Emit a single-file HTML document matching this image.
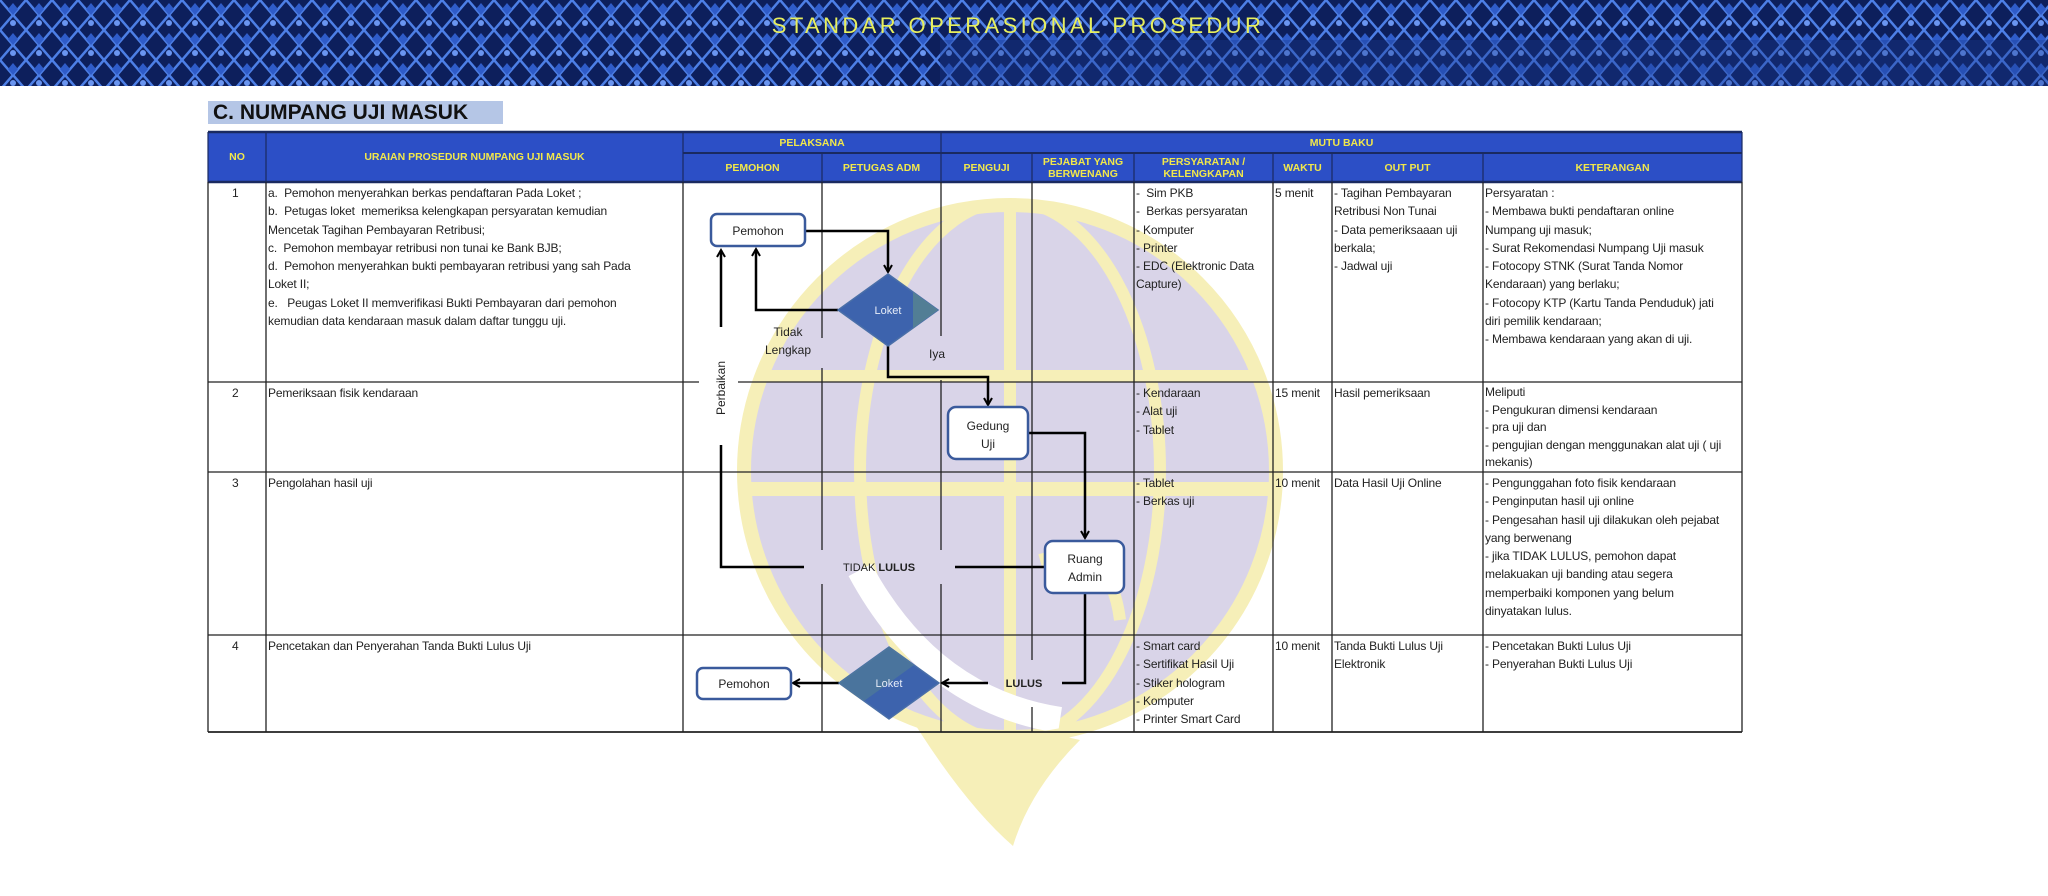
<!DOCTYPE html>
<html><head><meta charset="utf-8"><style>
*{margin:0;padding:0;box-sizing:border-box}
body{width:2048px;height:896px;background:#fff;position:relative;overflow:hidden;font-family:"Liberation Sans",sans-serif;color:#222}
.t{position:absolute;font-size:12px;line-height:18.3px;white-space:nowrap;color:#222;letter-spacing:-0.15px}
.h{position:absolute;color:#f2e84a;font-weight:bold;font-size:10.5px;text-align:center;line-height:12px;display:flex;align-items:center;justify-content:center}
svg{position:absolute;left:0;top:0}
</style></head><body>
<svg width="2048" height="896">
<defs>
<pattern id="bt" width="26" height="30" patternUnits="userSpaceOnUse">
<rect width="26" height="30" fill="#0d1f5c"/>
<path d="M0 0L13 15L0 30M26 0L13 15L26 30" stroke="#4d7fe6" stroke-width="2.5" fill="none"/>
<path d="M13 3L18 9L13 15L8 9Z" fill="#2f5cc9"/>
<circle cx="13" cy="23" r="3" fill="#6a95f0"/>
</pattern>
<clipPath id="cc"><circle cx="1010" cy="471" r="262"/></clipPath>
<marker id="ar" markerWidth="10" markerHeight="10" refX="8" refY="5" orient="auto" markerUnits="userSpaceOnUse"><path d="M1 1L8 5L1 9" fill="none" stroke="#000" stroke-width="2"/></marker>
</defs>
<rect x="0" y="0" width="2048" height="86" fill="url(#bt)"/>
<rect x="940" y="40" width="1108" height="46" fill="#1a3a90" opacity="0.35"/>
<!-- watermark -->
<path d="M900 700 Q960 800 1013 846 Q1030 790 1080 740 Z" fill="#f6efb8"/>
<circle cx="1010" cy="471" r="266" fill="#d9d4e8" stroke="#f6efb8" stroke-width="14"/>
<g clip-path="url(#cc)" stroke="#f6efb8" fill="none">
<rect x="740" y="370" width="540" height="12" fill="#f6efb8" stroke="none"/>
<rect x="740" y="482" width="540" height="14" fill="#f6efb8" stroke="none"/>
<ellipse cx="1010" cy="471" rx="150" ry="270" stroke-width="12"/>
<line x1="1010" y1="200" x2="1010" y2="740" stroke-width="12"/>
<path d="M860 570 Q930 700 1060 720" stroke-width="26" stroke="#fff"/>
<path d="M1040 560 Q1110 540 1120 620" stroke-width="12"/>
</g>
<!-- header -->
<rect x="208" y="132" width="1534" height="50" fill="#2c4fc6"/>
<g stroke="#1a2a60" stroke-width="1.5">
<line x1="208" y1="132" x2="1742" y2="132" stroke-width="2.5"/>
<line x1="683" y1="153" x2="1742" y2="153" stroke-width="2"/>
<line x1="208" y1="182" x2="1742" y2="182" stroke-width="2.5"/>
</g>
<g stroke="#1a2a60" stroke-width="1.2">
<line x1="208" y1="132" x2="208" y2="182"/><line x1="266" y1="132" x2="266" y2="182"/>
<line x1="683" y1="132" x2="683" y2="182"/><line x1="941" y1="132" x2="941" y2="182"/>
<line x1="822" y1="153" x2="822" y2="182"/><line x1="1032" y1="153" x2="1032" y2="182"/>
<line x1="1134" y1="153" x2="1134" y2="182"/><line x1="1273" y1="153" x2="1273" y2="182"/>
<line x1="1332" y1="153" x2="1332" y2="182"/><line x1="1483" y1="153" x2="1483" y2="182"/>
<line x1="1742" y1="132" x2="1742" y2="182"/>
</g>
<!-- body grid -->
<g stroke="#222" stroke-width="1.3">
<line x1="208" y1="182" x2="208" y2="732"/><line x1="266" y1="182" x2="266" y2="732"/>
<line x1="683" y1="182" x2="683" y2="732"/>
<line x1="1134" y1="182" x2="1134" y2="732"/><line x1="1273" y1="182" x2="1273" y2="732"/>
<line x1="1332" y1="182" x2="1332" y2="732"/><line x1="1483" y1="182" x2="1483" y2="732"/>
<line x1="1742" y1="182" x2="1742" y2="732"/>
<line x1="208" y1="382" x2="699" y2="382"/><line x1="738" y1="382" x2="1742" y2="382"/>
<line x1="208" y1="472" x2="1742" y2="472"/>
<line x1="208" y1="635" x2="1742" y2="635"/>
<line x1="208" y1="732" x2="1742" y2="732" stroke-width="1.8"/>
<line x1="822" y1="182" x2="822" y2="338"/><line x1="822" y1="368" x2="822" y2="550"/><line x1="822" y1="584" x2="822" y2="732"/>
<line x1="941" y1="182" x2="941" y2="336"/><line x1="941" y1="380" x2="941" y2="550"/><line x1="941" y1="584" x2="941" y2="732"/>
<line x1="1032" y1="182" x2="1032" y2="660"/><line x1="1032" y1="707" x2="1032" y2="732"/>
</g>
<!-- flow -->
<g stroke="#000" stroke-width="2.5" fill="none">
<polyline points="805,231 888,231 888,272" marker-end="url(#ar)"/>
<polyline points="838,310 756,310 756,249" marker-end="url(#ar)"/>
<line x1="721" y1="327" x2="721" y2="250" marker-end="url(#ar)"/>
<polyline points="888,346 888,377 988,377 988,405" marker-end="url(#ar)"/>
<polyline points="1028,433 1085,433 1085,538" marker-end="url(#ar)"/>
<polyline points="721,445 721,567 804,567"/>
<line x1="955" y1="567" x2="1045" y2="567"/>
<polyline points="1085,593 1085,683 1062,683"/>
<line x1="988" y1="683" x2="942" y2="683" marker-end="url(#ar)"/>
<line x1="839" y1="683" x2="793" y2="683" marker-end="url(#ar)"/>
</g>
<g stroke="#3a5a9c" stroke-width="2.5" fill="#fff">
<rect x="711" y="214" width="94" height="32" rx="6"/>
<rect x="948" y="407" width="80" height="52" rx="8"/>
<rect x="1045" y="541" width="79" height="52" rx="8"/>
<rect x="697" y="668" width="94" height="31" rx="6"/>
</g>
<path d="M888 274L938 310L888 346L838 310Z" fill="#3d63ad" stroke="#4a6fa8" stroke-width="1.5"/>
<path d="M889 647L939 683L889 719L839 683Z" fill="#3d63ad" stroke="#4a6fa8" stroke-width="1.5"/>
<path d="M913 292L938 310L913 328Z" fill="#5b8a8a" opacity="0.7"/>
<path d="M864 665L889 647L914 665L864 701L839 683Z" fill="#5b8a8a" opacity="0.45"/>
<g font-family="Liberation Sans,sans-serif" font-size="12" fill="#222" text-anchor="middle">
<text x="758" y="235">Pemohon</text>
<text x="744" y="688">Pemohon</text>
<text x="888" y="314" fill="#e6ecf8" font-size="11">Loket</text>
<text x="889" y="687" fill="#e6ecf8" font-size="11">Loket</text>
<text x="988" y="430">Gedung</text><text x="988" y="448">Uji</text>
<text x="1085" y="563">Ruang</text><text x="1085" y="581">Admin</text>
<text x="788" y="336">Tidak</text><text x="788" y="354">Lengkap</text>
<text x="937" y="358">Iya</text>
<text x="879" y="571" font-size="11">TIDAK <tspan font-weight="bold">LULUS</tspan></text>
<text x="1024" y="687" font-size="11" font-weight="bold">LULUS</text>
<text transform="translate(725,388) rotate(-90)" font-size="12">Perbaikan</text>
<text x="1018" y="33" fill="#e8ef5e" font-size="22" letter-spacing="3.4" text-anchor="middle">STANDAR OPERASIONAL PROSEDUR</text>
</g>
</svg>
<div style="position:absolute;left:208px;top:101px;width:295px;height:23px;background:#b5c6e6"></div>
<div style="position:absolute;left:213px;top:100px;font-size:21px;font-weight:bold;color:#111;line-height:25px">C. NUMPANG UJI MASUK</div>
<div class="h" style="left:208px;top:132px;width:58px;height:50px">NO</div>
<div class="h" style="left:266px;top:132px;width:417px;height:50px">URAIAN PROSEDUR NUMPANG UJI MASUK</div>
<div class="h" style="left:683px;top:132px;width:258px;height:21px">PELAKSANA</div>
<div class="h" style="left:941px;top:132px;width:801px;height:21px">MUTU BAKU</div>
<div class="h" style="left:683px;top:153px;width:139px;height:29px">PEMOHON</div>
<div class="h" style="left:822px;top:153px;width:119px;height:29px">PETUGAS ADM</div>
<div class="h" style="left:941px;top:153px;width:91px;height:29px">PENGUJI</div>
<div class="h" style="left:1032px;top:153px;width:102px;height:29px">PEJABAT YANG<br>BERWENANG</div>
<div class="h" style="left:1134px;top:153px;width:139px;height:29px">PERSYARATAN /<br>KELENGKAPAN</div>
<div class="h" style="left:1273px;top:153px;width:59px;height:29px">WAKTU</div>
<div class="h" style="left:1332px;top:153px;width:151px;height:29px">OUT PUT</div>
<div class="h" style="left:1483px;top:153px;width:259px;height:29px">KETERANGAN</div>

<div class="t" style="left:232px;top:184px">1</div>
<div class="t" style="left:232px;top:384px">2</div>
<div class="t" style="left:232px;top:474px">3</div>
<div class="t" style="left:232px;top:637px">4</div>
<div class="t" style="left:268px;top:184px">a.&nbsp; Pemohon menyerahkan berkas pendaftaran Pada Loket ;<br>b.&nbsp; Petugas loket&nbsp; memeriksa kelengkapan persyaratan kemudian<br>Mencetak Tagihan Pembayaran Retribusi;<br>c.&nbsp; Pemohon membayar retribusi non tunai ke Bank BJB;<br>d.&nbsp; Pemohon menyerahkan bukti pembayaran retribusi yang sah Pada<br>Loket II;<br>e.&nbsp;&nbsp; Peugas Loket II memverifikasi Bukti Pembayaran dari pemohon<br>kemudian data kendaraan masuk dalam daftar tunggu uji.</div>
<div class="t" style="left:268px;top:384px">Pemeriksaan fisik kendaraan</div>
<div class="t" style="left:268px;top:474px">Pengolahan hasil uji</div>
<div class="t" style="left:268px;top:637px">Pencetakan dan Penyerahan Tanda Bukti Lulus Uji</div>

<div class="t" style="left:1136px;top:184px">-&nbsp; Sim PKB<br>-&nbsp; Berkas persyaratan<br>- Komputer<br>- Printer<br>- EDC (Elektronic Data<br>Capture)</div>
<div class="t" style="left:1136px;top:384px">- Kendaraan<br>- Alat uji<br>- Tablet</div>
<div class="t" style="left:1136px;top:474px">- Tablet<br>- Berkas uji</div>
<div class="t" style="left:1136px;top:637px">- Smart card<br>- Sertifikat Hasil Uji<br>- Stiker hologram<br>- Komputer<br>- Printer Smart Card</div>

<div class="t" style="left:1275px;top:184px">5 menit</div>
<div class="t" style="left:1275px;top:384px">15 menit</div>
<div class="t" style="left:1275px;top:474px">10 menit</div>
<div class="t" style="left:1275px;top:637px">10 menit</div>

<div class="t" style="left:1334px;top:184px">- Tagihan Pembayaran<br>Retribusi Non Tunai<br>- Data pemeriksaaan uji<br>berkala;<br>- Jadwal uji</div>
<div class="t" style="left:1334px;top:384px">Hasil pemeriksaan</div>
<div class="t" style="left:1334px;top:474px">Data Hasil Uji Online</div>
<div class="t" style="left:1334px;top:637px">Tanda Bukti Lulus Uji<br>Elektronik</div>

<div class="t" style="left:1485px;top:184px">Persyaratan :<br>- Membawa bukti pendaftaran online<br>Numpang uji masuk;<br>- Surat Rekomendasi Numpang Uji masuk<br>- Fotocopy STNK (Surat Tanda Nomor<br>Kendaraan) yang berlaku;<br>- Fotocopy KTP (Kartu Tanda Penduduk) jati<br>diri pemilik kendaraan;<br>- Membawa kendaraan yang akan di uji.</div>
<div class="t" style="left:1485px;top:384px;line-height:17.5px">Meliputi<br>- Pengukuran dimensi kendaraan<br>- pra uji dan<br>- pengujian dengan menggunakan alat uji ( uji<br>mekanis)</div>
<div class="t" style="left:1485px;top:474px">- Pengunggahan foto fisik kendaraan<br>- Penginputan hasil uji online<br>- Pengesahan hasil uji dilakukan oleh pejabat<br>yang berwenang<br>- jika TIDAK LULUS, pemohon dapat<br>melakuakan uji banding atau segera<br>memperbaiki komponen yang belum<br>dinyatakan lulus.</div>
<div class="t" style="left:1485px;top:637px">- Pencetakan Bukti Lulus Uji<br>- Penyerahan Bukti Lulus Uji</div>
</body></html>
